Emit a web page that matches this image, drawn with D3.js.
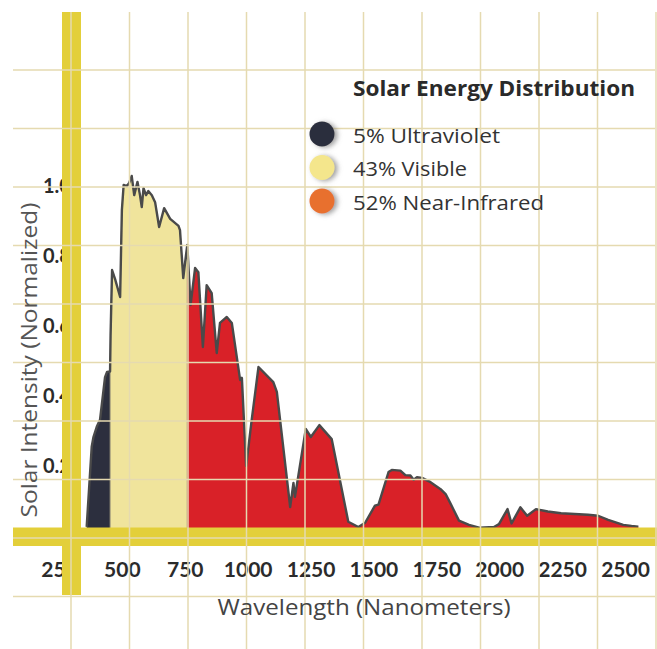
<!DOCTYPE html>
<html>
<head>
<meta charset="utf-8">
<script src="https://cdn.jsdelivr.net/npm/d3@7"></script>
<style>
  body { margin: 0; background: #fff; }
  svg { display: block; }
  text { font-family: "Open Sans", Lato, sans-serif; }
</style>
</head>
<body>
<div class="chart"></div>
<script>
// Data
//= ================================
var wavelength = [360, 380, 387, 400, 413, 433, 441, 453, 455, 461, 473, 493, 500, 507, 520, 529, 539, 549, 562, 572,
  579, 586, 596, 605, 619, 632, 648, 668, 692, 725, 731, 744, 751, 760, 773, 791, 804, 822, 837, 857,
  877, 890, 917, 937, 970, 977, 994, 1016, 1043, 1102, 1116, 1169, 1182, 1188, 1231, 1251, 1285, 1334, 1400, 1440,
  1467, 1506, 1520, 1560, 1573, 1607, 1627, 1647, 1660, 1673, 1693, 1727, 1767, 1787, 1807, 1840, 1880, 1920, 1979, 1999,
  2033, 2049, 2084, 2111, 2146, 2193, 2246, 2353, 2393, 2433, 2493, 2526, 2553];

var intensity = [0.023, 0.252, 0.280, 0.309, 0.329, 0.451, 0.466, 0.467, 0.571, 0.757, 0.731, 0.680, 0.929, 1.000, 0.997, 1.006, 1.026, 0.971, 1.009, 0.971,
  0.937, 0.991, 0.971, 0.983, 0.971, 0.951, 0.880, 0.934, 0.903, 0.883, 0.871, 0.734, 0.777, 0.829, 0.657, 0.763, 0.751, 0.537, 0.714, 0.691,
  0.520, 0.606, 0.623, 0.606, 0.443, 0.449, 0.197, 0.329, 0.480, 0.437, 0.409, 0.080, 0.149, 0.109, 0.303, 0.280, 0.314, 0.274, 0.038, 0.023,
  0.035, 0.084, 0.087, 0.180, 0.186, 0.184, 0.171, 0.170, 0.158, 0.165, 0.163, 0.151, 0.131, 0.117, 0.089, 0.041, 0.029, 0.021, 0.023, 0.031,
  0.074, 0.033, 0.079, 0.055, 0.074, 0.067, 0.062, 0.058, 0.055, 0.043, 0.029, 0.026, 0.024];

// UV | visible | near-IR split (nm)
var bandEdges = [453, 760];
var legendLabels = ["5% Ultraviolet", "43% Visible", "52% Near-Infrared"];
var xTicks = [250, 500, 750, 1000, 1250, 1500, 1750, 2000, 2250, 2500];
var yTicks = [0.2, 0.4, 0.6, 0.8, 1.0];
var chartTitle = "Solar Energy Distribution";

var bandFill = ["#2c2f3e", "#f0e49c", "#d92128"];
var legendFill = ["#2b2e3d", "#f4e68c", "#e8702f"];
var yellow = "#e3cf3a";
var gridColor = "#e5dab0";

// Step 1: svg
//= ================================
var svgWidth = 657;
var svgHeight = 649;

var svg = d3.select(".chart")
  .append("svg")
  .attr("width", svgWidth)
  .attr("height", svgHeight);

var defs = svg.append("defs");
defs.append("filter")
  .attr("id", "shadow")
  .attr("x", "-50%").attr("y", "-50%")
  .attr("width", "200%").attr("height", "200%")
  .append("feDropShadow")
  .attr("dx", 3).attr("dy", 1)
  .attr("stdDeviation", 2.5)
  .attr("flood-color", "#777")
  .attr("flood-opacity", 0.7);

// Step 2: scales
//= ================================
var x = d3.scaleLinear().domain([250, 2500]).range([59, 625]);
var y = d3.scaleLinear().domain([0, 1]).range([535, 185]);

var spectrum = wavelength.map((w, i) => ({ w: w, v: intensity[i] }));
var bands = [
  spectrum.filter(d => d.w <= bandEdges[0]),
  spectrum.filter(d => d.w >= bandEdges[0] && d.w <= bandEdges[1]),
  spectrum.filter(d => d.w >= bandEdges[1])
];

// Step 3: filled areas + outline
//= ================================
var area = d3.area()
  .x(d => x(d.w))
  .y0(y(0))
  .y1(d => y(d.v));

svg.append("g").selectAll("path")
  .data(bands)
  .enter()
  .append("path")
  .attr("d", area)
  .attr("fill", (d, i) => bandFill[i])
  .attr("stroke", (d, i) => i === 1 ? "#8a8670" : "none")
  .attr("stroke-width", 1);

svg.append("path")
  .datum(spectrum)
  .attr("d", d3.line().x(d => x(d.w)).y(d => y(d.v)))
  .attr("fill", "none")
  .attr("stroke", "#4a4a4a")
  .attr("stroke-width", 2.4)
  .attr("stroke-linejoin", "round");

// Step 4: axes (drawn under the yellow bars so they get clipped)
//= ================================
var leftAxis = svg.append("g")
  .call(d3.axisLeft(y).tickValues(yTicks).tickFormat(d3.format(".1f")).tickSize(0));
leftAxis.select(".domain").remove();
leftAxis.selectAll("text")
  .attr("x", 43)
  .attr("dy", "0.35em")
  .attr("text-anchor", "start")
  .attr("fill", "#2b2b2b")
  .style("font-size", "20px")
  .style("font-weight", "bold")
  .style("font-family", "Lato, sans-serif");

var bottomAxis = svg.append("g")
  .attr("transform", "translate(0, 577)")
  .call(d3.axisBottom(x).tickValues(xTicks).tickFormat(d3.format("d")).tickSize(0));
bottomAxis.select(".domain").remove();
bottomAxis.selectAll("text")
  .attr("y", 0)
  .attr("dy", 0)
  .attr("fill", "#2b2b2b")
  .style("font-size", "21px")
  .style("font-weight", "bold")
  .style("font-family", "Lato, sans-serif");

// Step 5: yellow axis bars
//= ================================
svg.append("rect")
  .attr("x", 62).attr("y", 12)
  .attr("width", 19).attr("height", 583)
  .attr("fill", yellow);

svg.append("rect")
  .attr("x", 13).attr("y", 527.5)
  .attr("width", 644).attr("height", 18.5)
  .attr("fill", yellow);

// Step 6: grid on top
//= ================================
var grid = svg.append("g")
  .attr("stroke", gridColor)
  .attr("stroke-width", 1.5);

grid.selectAll(".v")
  .data(d3.range(11).map(i => 71 + i * 58.5))
  .enter()
  .append("line")
  .attr("class", "v")
  .attr("x1", d => d).attr("x2", d => d)
  .attr("y1", 12).attr("y2", svgHeight);

grid.selectAll(".h")
  .data(d3.range(10).map(i => 70 + i * 58.5))
  .enter()
  .append("line")
  .attr("class", "h")
  .attr("x1", 13).attr("x2", 655)
  .attr("y1", d => d).attr("y2", d => d);

// Step 7: axis titles
//= ================================
svg.append("text")
  .attr("transform", "translate(37, 360) rotate(-90)")
  .attr("text-anchor", "middle")
  .attr("fill", "#555")
  .style("font-size", "21px")
  .attr("textLength", 315)
  .attr("lengthAdjust", "spacingAndGlyphs")
  .text("Solar Intensity (Normalized)");

svg.append("text")
  .attr("x", 364)
  .attr("y", 615)
  .attr("text-anchor", "middle")
  .attr("fill", "#444")
  .style("font-size", "21px")
  .attr("textLength", 293)
  .attr("lengthAdjust", "spacingAndGlyphs")
  .text("Wavelength (Nanometers)");

// Step 8: legend
//= ================================
svg.append("text")
  .attr("x", 353)
  .attr("y", 96)
  .attr("fill", "#2a2a2a")
  .style("font-size", "21px")
  .style("font-weight", "bold")
  .attr("textLength", 282)
  .attr("lengthAdjust", "spacingAndGlyphs")
  .text(chartTitle);

var legendWidths = [147, 114, 191];

var legend = svg.append("g").selectAll("g")
  .data(legendLabels)
  .enter()
  .append("g")
  .attr("transform", (d, i) => `translate(322, ${134 + i * 33.5})`);

legend.append("circle")
  .attr("r", 12.5)
  .attr("fill", (d, i) => legendFill[i])
  .attr("filter", "url(#shadow)");

legend.append("text")
  .attr("x", 31)
  .attr("y", 8.5)
  .attr("fill", "#333")
  .style("font-size", "20px")
  .attr("textLength", (d, i) => legendWidths[i])
  .attr("lengthAdjust", "spacingAndGlyphs")
  .text(d => d);
</script>
</body>
</html>
